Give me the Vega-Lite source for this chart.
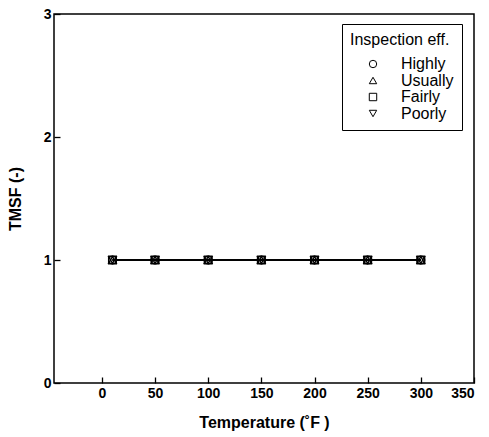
{
  "$schema": "https://vega.github.io/schema/vega-lite/v6.json",
  "autosize": "none",
  "width": 420,
  "height": 369,
  "padding": {"left": 54, "top": 14, "right": 15, "bottom": 54},
  "background": "white",
  "config": {
    "view": {"stroke": "black", "strokeWidth": 1.5},
    "font": "Liberation Sans",
    "axis": {
      "domain": false,
      "grid": false,
      "zindex": 1,
      "tickColor": "black",
      "tickSize": -6,
      "tickWidth": 1.3,
      "labelColor": "black",
      "labelFont": "Liberation Sans",
      "labelFontWeight": "bold",
      "labelFontSize": 14,
      "titleColor": "black",
      "titleFont": "Liberation Sans",
      "titleFontWeight": "bold",
      "titleFontSize": 16
    },
    "legend": {
      "strokeColor": "black",
      "strokeWidth": 1,
      "padding": 8,
      "fillColor": "white",
      "titleFont": "Liberation Sans",
      "titleFontSize": 16,
      "titleFontWeight": "normal",
      "titleColor": "black",
      "titlePadding": 8,
      "labelFont": "Liberation Sans",
      "labelFontSize": 16,
      "labelColor": "black",
      "labelOffset": 20,
      "symbolOffset": 15,
      "rowPadding": 0.5
    }
  },
  "data": {
    "values": [
      {"eff": "Highly", "temp": 10, "tmsf": 1},
      {"eff": "Highly", "temp": 50, "tmsf": 1},
      {"eff": "Highly", "temp": 100, "tmsf": 1},
      {"eff": "Highly", "temp": 150, "tmsf": 1},
      {"eff": "Highly", "temp": 200, "tmsf": 1},
      {"eff": "Highly", "temp": 250, "tmsf": 1},
      {"eff": "Highly", "temp": 300, "tmsf": 1},
      {"eff": "Usually", "temp": 10, "tmsf": 1},
      {"eff": "Usually", "temp": 50, "tmsf": 1},
      {"eff": "Usually", "temp": 100, "tmsf": 1},
      {"eff": "Usually", "temp": 150, "tmsf": 1},
      {"eff": "Usually", "temp": 200, "tmsf": 1},
      {"eff": "Usually", "temp": 250, "tmsf": 1},
      {"eff": "Usually", "temp": 300, "tmsf": 1},
      {"eff": "Fairly", "temp": 10, "tmsf": 1},
      {"eff": "Fairly", "temp": 50, "tmsf": 1},
      {"eff": "Fairly", "temp": 100, "tmsf": 1},
      {"eff": "Fairly", "temp": 150, "tmsf": 1},
      {"eff": "Fairly", "temp": 200, "tmsf": 1},
      {"eff": "Fairly", "temp": 250, "tmsf": 1},
      {"eff": "Fairly", "temp": 300, "tmsf": 1},
      {"eff": "Poorly", "temp": 10, "tmsf": 1},
      {"eff": "Poorly", "temp": 50, "tmsf": 1},
      {"eff": "Poorly", "temp": 100, "tmsf": 1},
      {"eff": "Poorly", "temp": 150, "tmsf": 1},
      {"eff": "Poorly", "temp": 200, "tmsf": 1},
      {"eff": "Poorly", "temp": 250, "tmsf": 1},
      {"eff": "Poorly", "temp": 300, "tmsf": 1}
    ]
  },
  "encoding": {
    "x": {
      "field": "temp",
      "type": "quantitative",
      "title": "Temperature (˚F )",
      "scale": {"domain": [-45, 350], "nice": false, "zero": false},
      "axis": {"values": [0, 50, 100, 150, 200, 250, 300, 350], "labelPadding": 9, "titlePadding": 14}
    },
    "y": {
      "field": "tmsf",
      "type": "quantitative",
      "title": "TMSF (-)",
      "scale": {"domain": [0, 3], "nice": false},
      "axis": {"values": [0, 1, 2, 3], "labelPadding": 9, "titlePadding": 20}
    }
  },
  "layer": [
    {
      "mark": {"type": "line", "color": "black", "strokeWidth": 1.5},
      "encoding": {"detail": {"field": "eff"}}
    },
    {
      "mark": {"type": "point", "filled": false, "color": "black", "strokeWidth": 1.3, "size": 60, "opacity": 1},
      "encoding": {
        "shape": {
          "field": "eff",
          "type": "nominal",
          "title": "Inspection eff.",
          "scale": {
            "domain": ["Highly", "Usually", "Fairly", "Poorly"],
            "range": ["circle", "triangle-up", "square", "triangle-down"]
          },
          "legend": {
            "orient": "none",
            "legendX": 288,
            "legendY": 10,
            "symbolSize": 55,
            "symbolStrokeColor": "black",
            "symbolStrokeWidth": 1
          }
        }
      }
    }
  ]
}
